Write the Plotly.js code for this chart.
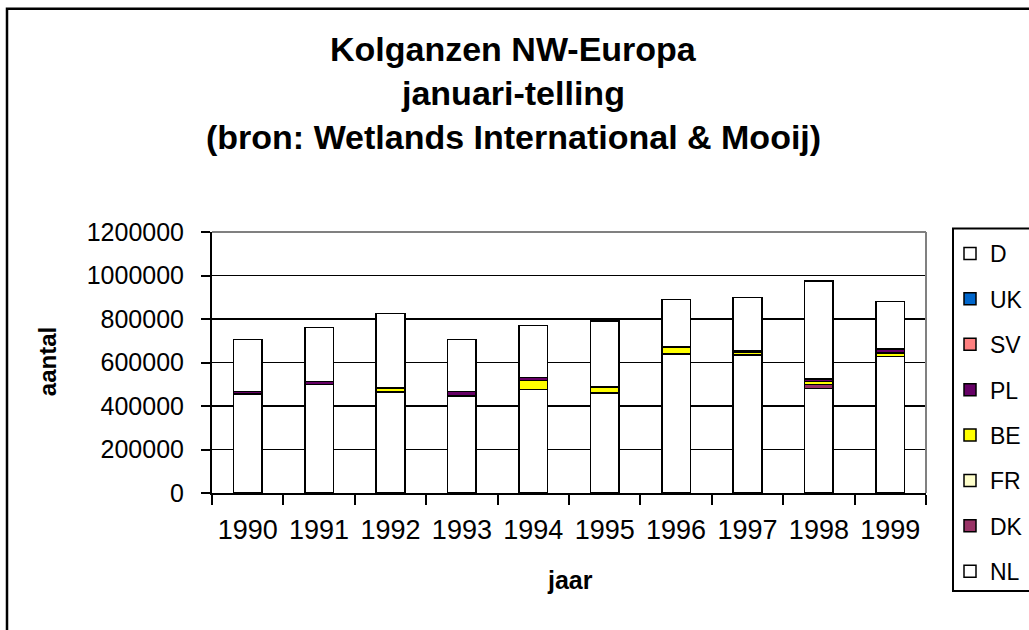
<!DOCTYPE html>
<html>
<head>
<meta charset="utf-8">
<script src="https://cdn.plot.ly/plotly-3.0.1.min.js"></script>
<style>html,body{margin:0;padding:0;background:#fff;}#chart{width:1029px;height:630px;}</style>
</head>
<body>
<div id="chart"></div>
<script>
const years = ["1990","1991","1992","1993","1994","1995","1996","1997","1998","1999"];
const NL = [455000, 500000, 465000, 445000, 475000, 460000, 640000, 634000, 480000, 628000];
const DK = [0, 0, 0, 0, 0, 0, 0, 0, 18000, 0];
const FR = [0, 0, 0, 0, 0, 0, 0, 0, 0, 0];
const BE = [0, 0, 15000, 0, 42000, 25000, 28000, 15000, 14000, 15000];
const PL = [12000, 12000, 3000, 22000, 14000, 3000, 3000, 4000, 12000, 20000];
const SV = [0, 0, 0, 0, 0, 0, 0, 0, 0, 0];
const UK = [0, 0, 0, 0, 0, 0, 0, 0, 0, 0];
const D  = [238000, 248000, 342000, 238000, 239000, 302000, 219000, 247000, 451000, 217000];

const seriesNames = ["NL","DK","FR","BE","PL","SV","UK","D"];
const seriesValues = [NL, DK, FR, BE, PL, SV, UK, D];
const seriesColors = ["#FFFFFF","#993366","#FFFFCC","#FFFF00","#660066","#FF8080","#0066CC","#FFFFFF"];

const FONT = "Liberation Sans, Arial, sans-serif";

const traces = seriesNames.map((n, i) => ({
  type: "bar",
  name: n,
  x: years,
  y: seriesValues[i],
  legendgroup: n,
  legendrank: seriesNames.length - i,
  marker: {color: seriesColors[i], line: {color: "#000", width: 1.5}},
  hoverinfo: "x+y+name"
}));

const L = 212, R = 926, T = 232, B = 492.7;
const px = v => (v - L) / (R - L);
const py = v => (B - v) / (B - T);

const layout = {
  width: 1029, height: 630,
  margin: {l: L, r: 1029 - R, t: T, b: 630 - B, pad: 0, autoexpand: false},
  paper_bgcolor: "#fff", plot_bgcolor: "#fff",
  barmode: "stack",
  bargap: 0.6,
  font: {family: FONT, color: "#000", size: 22},
  showlegend: true,
  legend: {
    x: px(950), y: py(232), xanchor: "left", yanchor: "top",
    traceorder: "grouped", tracegroupgap: 12.5,
    maxheight: 630,
    font: {family: FONT, size: 23, color: "#000"},
    bgcolor: "rgba(0,0,0,0)", borderwidth: 0
  },
  xaxis: {
    type: "category",
    tickson: "boundaries",
    tickangle: 0,
    ticks: "outside", ticklen: 10, tickwidth: 2, tickcolor: "#000",
    showline: true, linecolor: "#000", linewidth: 2,
    showgrid: false, zeroline: false,
    ticklabelstandoff: 12,
    tickfont: {family: FONT, size: 27, color: "#000"},
    fixedrange: true
  },
  yaxis: {
    range: [0, 1200000],
    tickvals: [0, 200000, 400000, 600000, 800000, 1000000, 1200000],
    ticktext: ["0","200000","400000","600000","800000","1000000","1200000"],
    ticks: "outside", ticklen: 9, tickwidth: 2, tickcolor: "#000",
    showline: true, linecolor: "#000", linewidth: 2,
    showgrid: true, gridcolor: "#000", gridwidth: 1.5,
    zeroline: false,
    ticklabelstandoff: 12,
    tickfont: {family: FONT, size: 25, color: "#000"},
    fixedrange: true
  },
  annotations: [
    {text: "<b>Kolganzen NW-Europa</b>", xref: "paper", yref: "paper", x: px(513), y: py(49), xanchor: "center", yanchor: "middle", showarrow: false, font: {family: FONT, size: 34, color: "#000"}},
    {text: "<b>januari-telling</b>", xref: "paper", yref: "paper", x: px(513), y: py(93), xanchor: "center", yanchor: "middle", showarrow: false, font: {family: FONT, size: 34, color: "#000"}},
    {text: "<b>(bron: Wetlands International &amp; Mooij)</b>", xref: "paper", yref: "paper", x: px(513), y: py(137), xanchor: "center", yanchor: "middle", showarrow: false, font: {family: FONT, size: 34, color: "#000"}},
    {text: "<b>jaar</b>", xref: "paper", yref: "paper", x: px(570), y: py(580), xanchor: "center", yanchor: "middle", showarrow: false, font: {family: FONT, size: 25, color: "#000"}},
    {text: "<b>aantal</b>", xref: "paper", yref: "paper", x: px(47), y: py(362), xanchor: "center", yanchor: "middle", textangle: -90, showarrow: false, font: {family: FONT, size: 24, color: "#000"}}
  ],
  shapes: [
    {type: "rect", xref: "paper", yref: "paper", x0: px(7), x1: px(1040), y0: py(9), y1: py(645), line: {color: "#000", width: 2.5}, fillcolor: "rgba(0,0,0,0)", layer: "above"},
    {type: "line", xref: "paper", yref: "paper", x0: 0, x1: 1, y0: 1, y1: 1, line: {color: "#808080", width: 2}, layer: "above"},
    {type: "line", xref: "paper", yref: "paper", x0: 1, x1: 1, y0: 0, y1: 1, line: {color: "#808080", width: 2}, layer: "above"},
    {type: "rect", xref: "paper", yref: "paper", x0: px(953), x1: px(1040), y0: py(228.5), y1: py(590.5), line: {color: "#000", width: 2}, fillcolor: "rgba(0,0,0,0)", layer: "above"}
  ]
};

Plotly.newPlot("chart", traces, layout, {staticPlot: true, displayModeBar: false});
</script>
</body>
</html>
